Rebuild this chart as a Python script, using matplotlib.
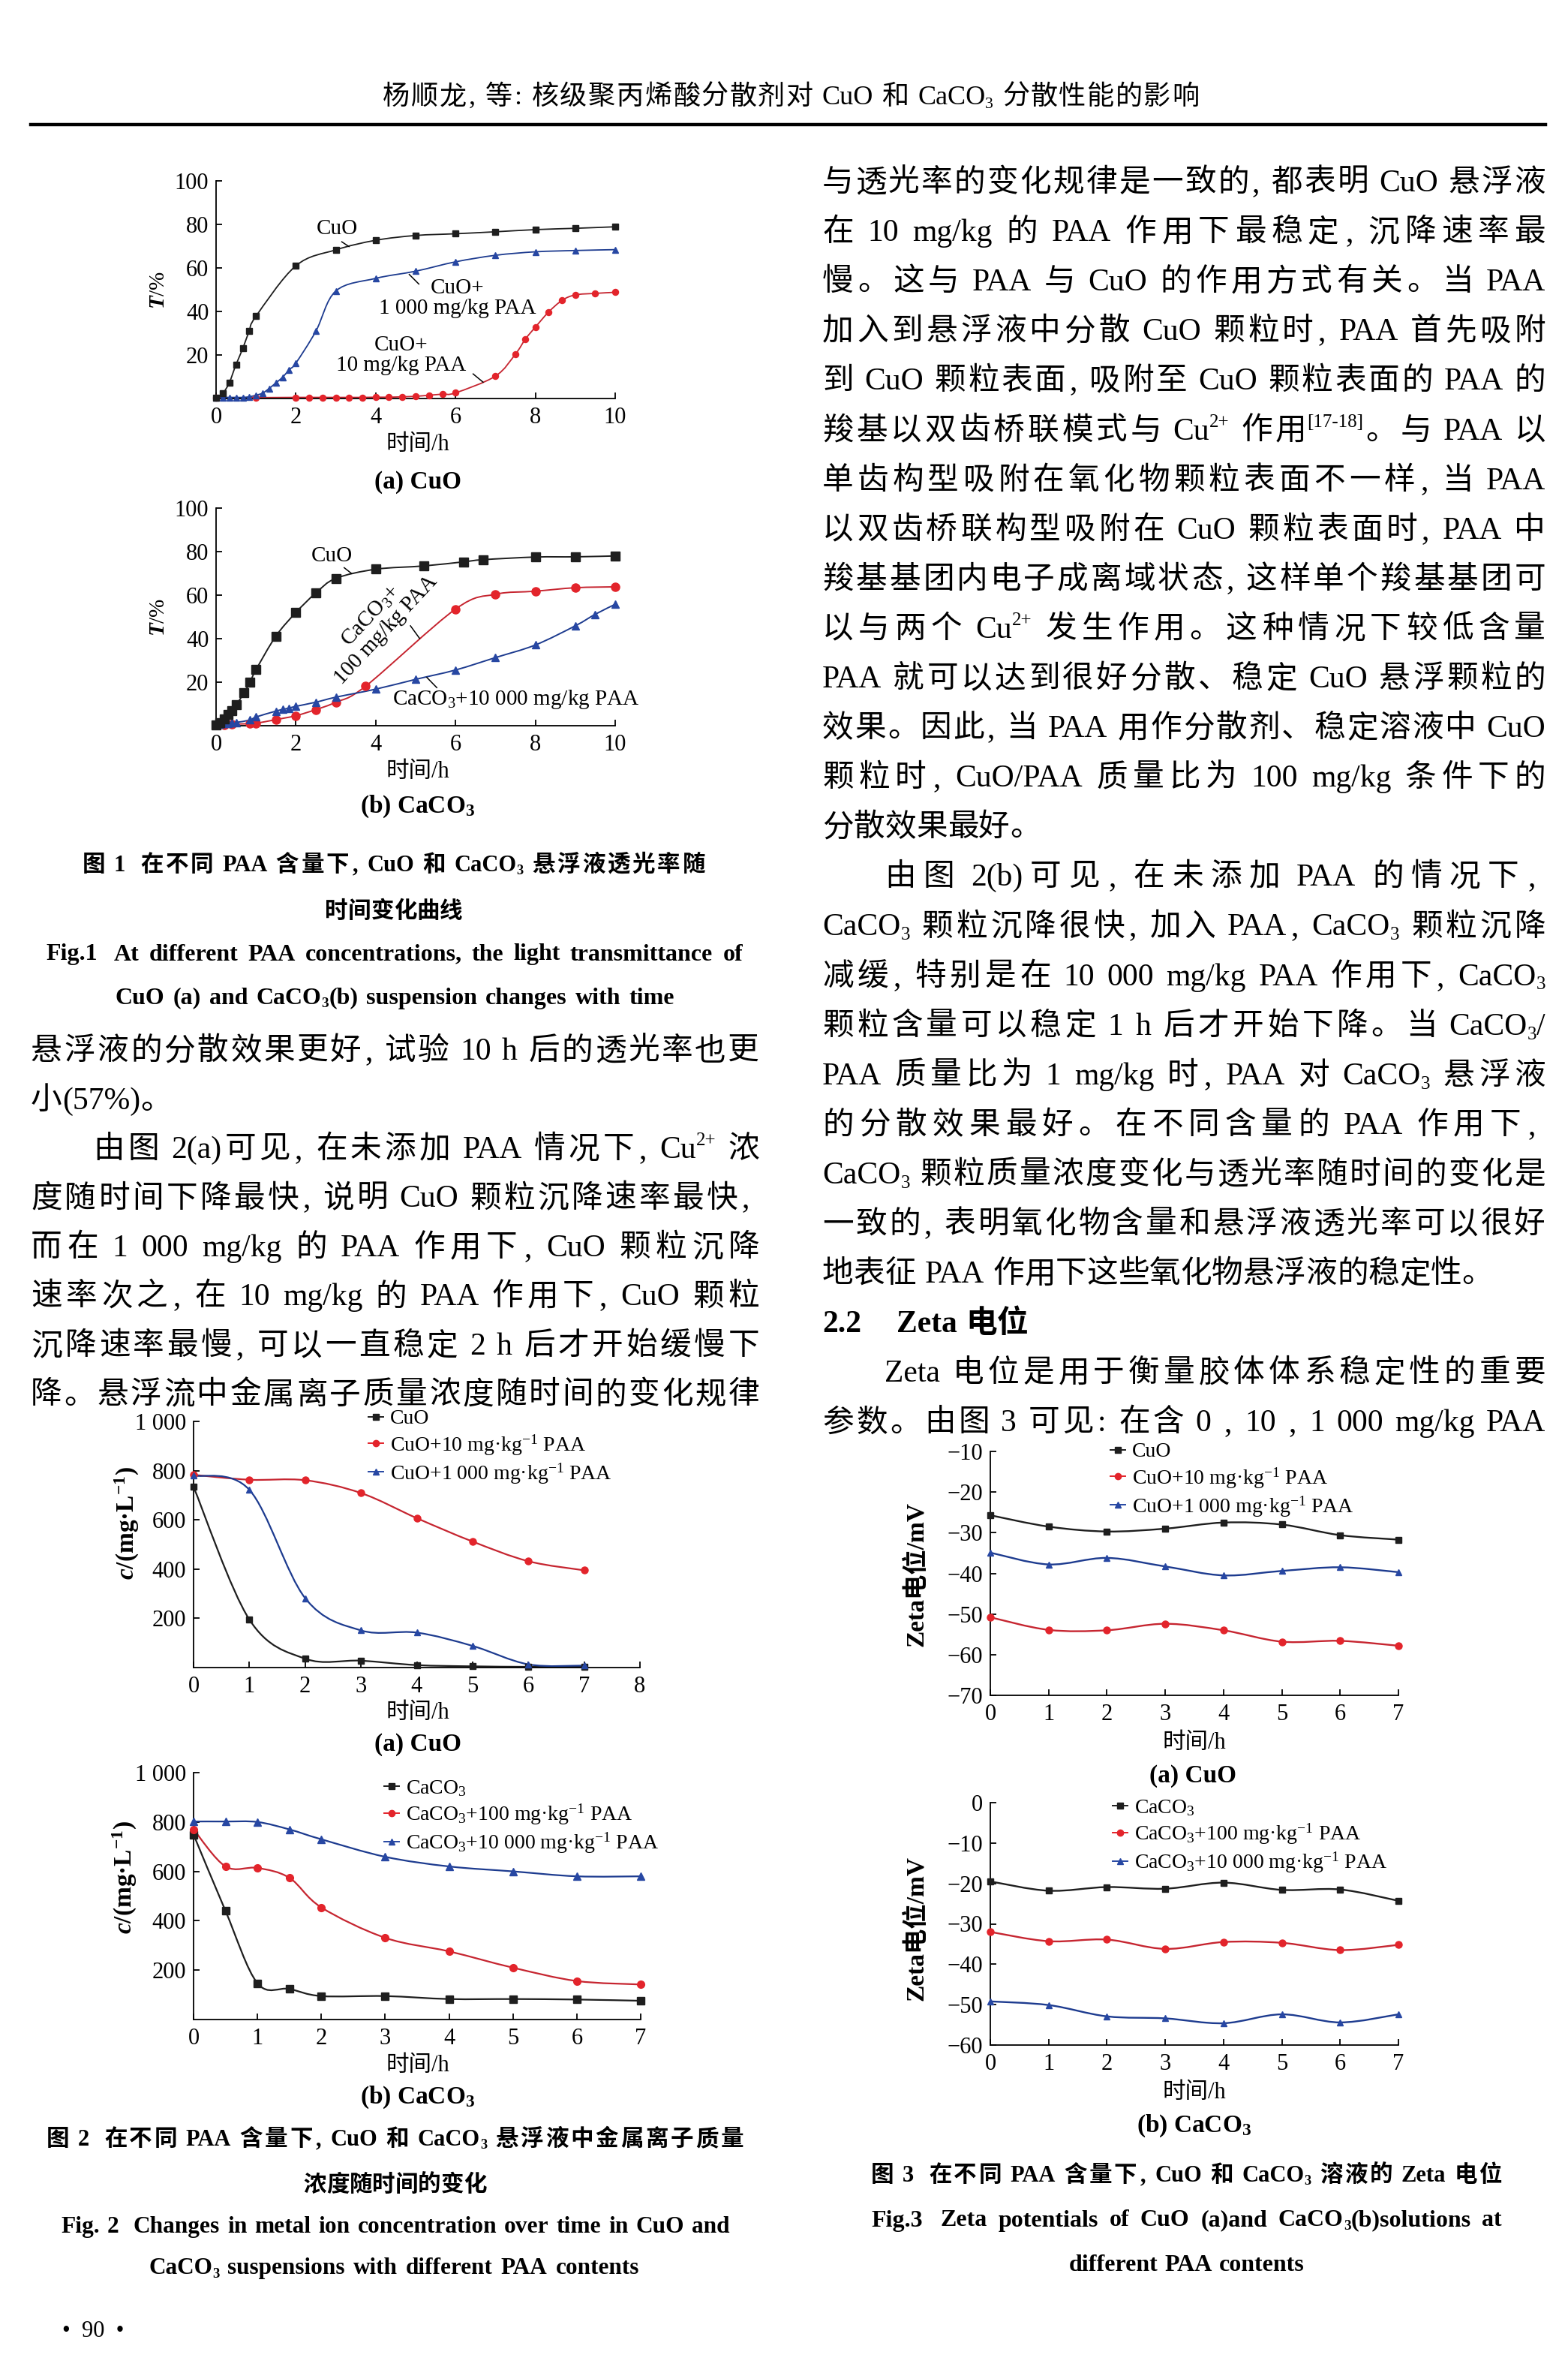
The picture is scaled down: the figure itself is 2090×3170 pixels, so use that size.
import re
import numpy as np
import matplotlib
matplotlib.use('Agg')
import matplotlib.pyplot as plt
from matplotlib.path import Path
from matplotlib.patches import PathPatch
from matplotlib.lines import Line2D

W, H = 2090, 3170
PX = 100 / 72
CJK = 'Noto Sans CJK SC'
SERIF = 'Liberation Serif'

plt.rcParams['font.family'] = [SERIF, CJK]
plt.rcParams['mathtext.fontset'] = 'custom'
plt.rcParams['mathtext.rm'] = SERIF
plt.rcParams['mathtext.it'] = SERIF + ':italic:bold'
plt.rcParams['mathtext.bf'] = SERIF + ':bold'

# ---------------- data ----------------
# Fig.1(a) transmittance T/% vs time/h, CuO
t1a_cuo = [0, 0.17, 0.33, 0.5, 0.67, 0.83, 1.0, 2, 3, 4, 5, 6, 7, 8, 9, 10]
T1a_cuo = [0.3, 2.4, 7.2, 15.6, 23, 31, 37.8, 61, 68.3, 72.7, 74.9, 75.7, 76.6, 77.6, 78.2, 78.9]
t1a_1000 = [0, 0.17, 0.33, 0.5, 0.67, 0.83, 1.0, 1.17, 1.33, 1.5, 1.67, 1.83, 2.0, 2.5, 3, 4, 5, 6, 7, 8, 9, 10]
T1a_1000 = [0.5, 0.5, 0.5, 0.5, 0.5, 0.8, 1.5, 2.5, 4.6, 7.2, 9.8, 13.2, 16.3, 30.9, 49.4, 55.2, 58.5, 62.8,
            65.8, 67.4, 68.0, 68.4]
t1a_10 = [0, 1, 2, 2.33, 2.67, 3, 3.33, 3.67, 4, 4.33, 4.67, 5, 5.33, 5.67, 6, 7, 7.5, 7.75, 8, 8.33, 8.67,
          9, 9.5, 10]
T1a_10 = [0.3, 0.4, 0.5, 0.5, 0.5, 0.5, 0.5, 0.5, 0.6, 0.6, 0.8, 1.0, 1.5, 2.0, 2.6, 10.3, 20.4, 27.3, 32.8,
          39.7, 45.1, 47.6, 48.3, 48.8]

# Fig.1(b) CaCO3
t1b_cuo = [0, 0.1, 0.2, 0.3, 0.4, 0.5, 0.7, 0.85, 1.0, 1.5, 2, 2.5, 3, 4, 5.2, 6.2, 6.7, 8, 9, 10]
T1b_cuo = [0.5, 1.5, 3, 5, 7, 9.5, 15, 20, 25.7, 41.2, 52, 61, 67.7, 71.9, 73.4, 75.3, 76.3, 77.5, 77.6, 78]
t1b_100 = [0, 0.2, 0.4, 0.85, 1.0, 1.5, 2, 2.5, 3, 3.75, 6, 7, 8, 9, 10]
T1b_100 = [0.3, 0.5, 0.7, 0.9, 1.1, 2.8, 4.6, 7.4, 10.8, 18.2, 53.6, 60.4, 61.8, 63.4, 63.8]
t1b_10000 = [0, 0.1, 0.2, 0.3, 0.4, 0.5, 0.85, 1.0, 1.5, 1.67, 1.83, 2, 2.5, 3, 4, 5, 6, 7, 8, 9, 9.5, 10]
T1b_10000 = [0.5, 0.7, 0.9, 1.1, 1.3, 1.5, 2.6, 4.0, 6.7, 7.5, 8.1, 8.9, 10.8, 13.1, 16.8, 21.3, 25.6, 31.3,
             37.1, 45.9, 51.2, 55.8]

# Fig.2 metal ion concentration c/(mg/L)
t2a = [0, 1, 2, 3, 4, 5, 6, 7]
c2a_cuo = [734, 195, 36, 28, 10, 5, 3, 3]
c2a_10 = [783, 763, 761, 709, 607, 512, 432, 395]
c2a_1000 = [780, 722, 282, 151, 142, 88, 13, 8]

t2b = [0, 0.5, 1, 1.5, 2, 3, 4, 5, 6, 7]
c2b_caco3 = [749, 440, 147, 124, 95, 95, 83, 83, 81, 76]
c2b_100 = [770, 620, 614, 574, 454, 331, 276, 210, 156, 142]
c2b_10000 = [802, 802, 800, 770, 730, 659, 620, 600, 580, 580]

# Fig.3 zeta potential / mV
t3 = [0, 1, 2, 3, 4, 5, 6, 7]
z3a_cuo = [-25.7, -28.5, -29.7, -29.0, -27.5, -28.0, -30.6, -31.7]
z3a_10 = [-50.8, -53.9, -54.0, -52.4, -54.0, -56.8, -56.6, -57.8]
z3a_1000 = [-34.9, -37.8, -36.2, -38.3, -40.5, -39.4, -38.5, -39.7]
z3b_caco3 = [-19.5, -21.8, -20.9, -21.3, -19.8, -21.6, -21.5, -24.3]
z3b_100 = [-32.0, -34.3, -33.9, -36.2, -34.5, -34.7, -36.5, -35.2]
z3b_10000 = [-49.2, -50.1, -52.9, -53.4, -54.6, -52.4, -54.4, -52.4]

leg2a = ['CuO', 'CuO+10 mg·kg$^{-1}$ PAA', 'CuO+1 000 mg·kg$^{-1}$ PAA']
leg2b = ['CaCO$_3$', 'CaCO$_3$+100 mg·kg$^{-1}$ PAA', 'CaCO$_3$+10 000 mg·kg$^{-1}$ PAA']
ticks_c = [200, 400, 600, 800, 1000]
ticklabels_c = ['200', '400', '600', '800', '1 000']

# ---------------- page text ----------------
header = '杨顺龙，等：核级聚丙烯酸分散剂对 CuO 和 CaCO_{3} 分散性能的影响'

right_lines = [
    ('与透光率的变化规律是一致的，都表明 CuO 悬浮液', 'j', 0),
    ('在 10 mg/kg 的 PAA 作用下最稳定，沉降速率最', 'j', 0),
    ('慢。这与 PAA 与 CuO 的作用方式有关。当 PAA', 'j', 0),
    ('加入到悬浮液中分散 CuO 颗粒时，PAA 首先吸附', 'j', 0),
    ('到 CuO 颗粒表面，吸附至 CuO 颗粒表面的 PAA 的', 'j', 0),
    ('羧基以双齿桥联模式与 Cu^{2+} 作用^{[17-18]}。与 PAA 以', 'j', 0),
    ('单齿构型吸附在氧化物颗粒表面不一样，当 PAA', 'j', 0),
    ('以双齿桥联构型吸附在 CuO 颗粒表面时，PAA 中', 'j', 0),
    ('羧基基团内电子成离域状态，这样单个羧基基团可', 'j', 0),
    ('以与两个 Cu^{2+} 发生作用。这种情况下较低含量', 'j', 0),
    ('PAA 就可以达到很好分散、稳定 CuO 悬浮颗粒的', 'j', 0),
    ('效果。因此，当 PAA 用作分散剂、稳定溶液中 CuO', 'j', 0),
    ('颗粒时，CuO/PAA 质量比为 100 mg/kg 条件下的', 'j', 0),
    ('分散效果最好。', 'l', 0),
    ('由图 2(b)可见，在未添加 PAA 的情况下，', 'j', 1),
    ('CaCO_{3} 颗粒沉降很快，加入 PAA，CaCO_{3} 颗粒沉降', 'j', 0),
    ('减缓，特别是在 10 000 mg/kg PAA 作用下，CaCO_{3}', 'j', 0),
    ('颗粒含量可以稳定 1 h 后才开始下降。当 CaCO_{3}/', 'j', 0),
    ('PAA 质量比为 1 mg/kg 时，PAA 对 CaCO_{3} 悬浮液', 'j', 0),
    ('的分散效果最好。在不同含量的 PAA 作用下，', 'j', 0),
    ('CaCO_{3} 颗粒质量浓度变化与透光率随时间的变化是', 'j', 0),
    ('一致的，表明氧化物含量和悬浮液透光率可以很好', 'j', 0),
    ('地表征 PAA 作用下这些氧化物悬浮液的稳定性。', 'l', 0),
    ('2.2    Zeta 电位', 'h', 0),
    ('Zeta 电位是用于衡量胶体体系稳定性的重要', 'j', 1),
    ('参数。由图 3 可见：在含 0 ，10 ，1 000 mg/kg PAA', 'j', 0),
]

left_lines = [
    ('悬浮液的分散效果更好，试验 10 h 后的透光率也更', 'j', 0),
    ('小(57%)。', 'l', 0),
    ('由图 2(a)可见，在未添加 PAA 情况下，Cu^{2+} 浓', 'j', 1),
    ('度随时间下降最快，说明 CuO 颗粒沉降速率最快，', 'j', 0),
    ('而在 1 000 mg/kg 的 PAA 作用下，CuO 颗粒沉降', 'j', 0),
    ('速率次之，在 10 mg/kg 的 PAA 作用下，CuO 颗粒', 'j', 0),
    ('沉降速率最慢，可以一直稳定 2 h 后才开始缓慢下', 'j', 0),
    ('降。悬浮流中金属离子质量浓度随时间的变化规律', 'j', 0),
]

# (text, x0, x1, y, align, size)
captions = [
    ('图 1  在不同 PAA 含量下，CuO 和 CaCO_{3} 悬浮液透光率随', 110, 940, 1150, 'j', 22),
    ('时间变化曲线', 110, 940, 1212, 'c', 22),
    ('Fig.1  At different PAA concentrations, the light transmittance of', 61, 990, 1268, 'j', 23),
    ('CuO (a) and CaCO_{3}(b) suspension changes with time', 154, 899, 1326, 'j', 23),
    ('图 2  在不同 PAA 含量下，CuO 和 CaCO_{3} 悬浮液中金属离子质量', 62, 991, 2848, 'j', 22),
    ('浓度随时间的变化', 62, 991, 2909, 'c', 22),
    ('Fig. 2  Changes in metal ion concentration over time in CuO and', 81, 973, 2964, 'j', 23),
    ('CaCO_{3} suspensions with different PAA contents', 198, 852, 3019, 'j', 23),
    ('图 3  在不同 PAA 含量下，CuO 和 CaCO_{3} 溶液的 Zeta 电位', 1161, 2002, 2896, 'j', 22),
    ('Fig.3  Zeta potentials of CuO (a)and CaCO_{3}(b)solutions at', 1161, 2002, 2955, 'j', 23),
    ('different PAA contents', 1161, 2002, 3015, 'c', 23),
]

fig = plt.figure(figsize=(W / 100, H / 100), dpi=100)
fig.patch.set_facecolor('white')
renderer = fig.canvas.get_renderer()


def fx(x):
    return x / W


def fy(y):
    return 1 - y / H


# full-width punctuation drawn with the serif face (narrow, like the print)
PUNCT_LAT = {'，': ',', '：': ':', '；': ';'}
WIDE_PUNCT = '。、'


def parse(s):
    boxes = []
    st = {'word': '', 'sp': 0}

    def push(text, kind, cjk, punct=False):
        if not boxes:
            gap = 'none'
        elif kind != 'n':
            gap = 'attach'
        elif st['sp']:
            gap = 'space'
        elif cjk or boxes[-1]['cjk']:
            gap = 'cjk'
        else:
            gap = 'attach'
        boxes.append(dict(text=text, kind=kind, cjk=cjk, punct=punct, gap=gap, nsp=st['sp']))
        st['sp'] = 0

    def flush():
        if st['word']:
            w = st['word']
            st['word'] = ''
            push(w, 'n', False)

    for part in re.split(r'([_^]\{[^}]*\})', s):
        if not part:
            continue
        if part[0] in '_^' and part[1:2] == '{':
            flush()
            push(part[2:-1], 'sub' if part[0] == '_' else 'sup', False)
            continue
        for ch in part:
            if ch == ' ':
                flush()
                st['sp'] += 1
            elif ch in PUNCT_LAT:
                flush()
                push(PUNCT_LAT[ch], 'n', True, punct=True)
            elif ord(ch) < 0x2000 or ch == '−':
                st['word'] += ch
            else:
                flush()
                push(ch, 'n', True)
    flush()
    return boxes


def draw_line(s, x0, x1, y, size, weight='normal', align='j'):
    boxes = parse(s)
    em = size * PX
    for b in boxes:
        fs = size * (0.6 if b['kind'] != 'n' else 1.0)
        b['fs'] = fs
        fam = CJK if (b['cjk'] and not b['punct']) else SERIF
        b['t'] = fig.text(0, 0, b['text'], fontsize=fs, family=fam,
                          weight=weight, va='baseline', ha='left', color='black')
        ink = b['t'].get_window_extent(renderer).width
        if b['punct']:
            b['w'], b['off'] = ink + 0.36 * em, 0.04 * em
        elif b['cjk'] and b['text'] in WIDE_PUNCT:
            b['w'] = max(em, ink)
            b['off'] = max(0.0, min(0.06 * em, b['w'] - ink))
        elif b['cjk']:
            b['w'] = max(em, ink)
            b['off'] = (b['w'] - ink) / 2
        else:
            b['w'], b['off'] = ink, 0.0
    sw = 0.28 * em
    target = x1 - x0
    nat = sum(b['w'] for b in boxes) + sum(sw * b['nsp'] for b in boxes if b['gap'] == 'space')
    if align == 'j' and nat > target:
        k = target / nat * 0.985
        for b in boxes:
            b['t'].set_fontsize(b['fs'] * k)
            b['w'] *= k
            b['off'] *= k
        sw *= k
        em *= k
        nat *= k
    ngaps = sum(1 for b in boxes if b['gap'] in ('space', 'cjk'))
    extra = (target - nat) / ngaps if (align == 'j' and ngaps) else 0.0
    x = (x0 + x1) / 2 - nat / 2 if align == 'c' else x0
    base = y + 0.36 * em
    for b in boxes:
        if b['gap'] == 'space':
            x += sw * b['nsp'] + extra
        elif b['gap'] == 'cjk':
            x += extra
        yb = base
        if b['kind'] == 'sub':
            yb = base + 0.14 * em
        elif b['kind'] == 'sup':
            yb = base - 0.40 * em
        b['t'].set_position((fx(x + b['off']), fy(yb)))
        x += b['w']


def smooth_path(x, y):
    pts = np.column_stack([x, y]).astype(float)
    n = len(pts)
    verts = [pts[0]]
    codes = [Path.MOVETO]
    for i in range(n - 1):
        p0 = pts[i - 1] if i > 0 else pts[i]
        p1, p2 = pts[i], pts[i + 1]
        p3 = pts[i + 2] if i + 2 < n else pts[i + 1]
        verts += [p1 + (p2 - p0) / 6, p2 - (p3 - p1) / 6, p2]
        codes += [Path.CURVE4] * 3
    return Path(verts, codes)


def add_ax(x0, x1, ytop, ybot):
    ax = fig.add_axes([x0 / W, 1 - ybot / H, (x1 - x0) / W, (ybot - ytop) / H])
    ax.patch.set_alpha(0)
    for s in ('top', 'right'):
        ax.spines[s].set_visible(False)
    for s in ('left', 'bottom'):
        ax.spines[s].set_linewidth(1.3)
    ax.tick_params(direction='in', length=5.5, width=1.3, labelsize=22, pad=7)
    ax.tick_params(axis='x', pad=8)
    return ax


def series(ax, x, y, lc, mc, marker, ms, lw):
    ax.add_patch(PathPatch(smooth_path(x, y), facecolor='none', edgecolor=lc, lw=lw,
                           clip_on=False, zorder=2))
    ax.plot(x, y, linestyle='none', marker=marker, ms=ms, color=mc, mec=mc,
            clip_on=False, zorder=3)


def leader(ax, p, q):
    ax.plot([p[0], q[0]], [p[1], q[1]], color='black', lw=1.1, clip_on=False)


def legend(ax, labels, colors, markers, ms, xm, y0):
    fs = 20
    hl = 0.75
    handles = [Line2D([], [], color=c, marker=m, ms=ms, lw=1.4) for c, m in zip(colors, markers)]
    ax.legend(handles, labels, loc='upper left',
              bbox_to_anchor=(fx(xm - hl * fs * PX / 2), fy(y0 - 17)),
              bbox_transform=fig.transFigure, frameon=False, fontsize=fs, handlelength=hl,
              handletextpad=0.3, labelspacing=0.2, borderpad=0, borderaxespad=0)


BLACK = '#1e1e1e'
RED_L, RED_M = '#c62530', '#e3242b'
BLUE_L, BLUE_M = '#1d3b8f', '#2747a3'

# ---------------- header ----------------
draw_line(header, 510, 1598, 126, 26)
fig.add_artist(Line2D([fx(41), fx(2060)], [fy(166), fy(166)], color='black', lw=3.2,
                      transform=fig.transFigure))

# ---------------- Fig.1(a) ----------------
ax = add_ax(288, 820, 241, 531)
series(ax, t1a_10, T1a_10, RED_L, RED_M, 'o', 5.8, 1.3)
series(ax, t1a_1000, T1a_1000, BLUE_L, BLUE_M, '^', 5.5, 1.3)
series(ax, t1a_cuo, T1a_cuo, BLACK, BLACK, 's', 5.8, 1.3)
ax.set_xlim(0, 10)
ax.set_ylim(0, 100)
ax.set_xticks(range(0, 11, 2))
ax.set_yticks(range(20, 101, 20))
ax.text(3.04, 78, 'CuO', fontsize=21, ha='center', va='center')
leader(ax, (3.15, 72), (3.33, 69.8))
ax.text(6.05, 46, 'CuO+\n1 000 mg/kg PAA', fontsize=21, ha='center', va='center',
        multialignment='center', linespacing=1.05)
leader(ax, (5.08, 52.6), (4.84, 57))
ax.text(4.63, 19.8, 'CuO+\n10 mg/kg PAA', fontsize=21, ha='center', va='center',
        multialignment='center', linespacing=1.05)
leader(ax, (6.44, 11.3), (6.69, 7.5))
fig.text(fx(212), fy(386), '$T$/%', rotation=90, ha='center', va='center', fontsize=21)
fig.text(fx(557), fy(593), '时间/h', ha='center', va='center', fontsize=22)
fig.text(fx(557), fy(643), '(a) CuO', ha='center', va='center', fontsize=24, weight='bold')

# ---------------- Fig.1(b) ----------------
ax = add_ax(288, 820, 677, 967)
series(ax, t1b_100, T1b_100, RED_L, RED_M, 'o', 8, 1.4)
series(ax, t1b_10000, T1b_10000, BLUE_L, BLUE_M, '^', 7.5, 1.4)
series(ax, t1b_cuo, T1b_cuo, BLACK, BLACK, 's', 8, 1.4)
ax.set_xlim(0, 10)
ax.set_ylim(0, 100)
ax.set_xticks(range(0, 11, 2))
ax.set_yticks(range(20, 101, 20))
ax.text(2.9, 78, 'CuO', fontsize=21, ha='center', va='center')
leader(ax, (3.21, 72.6), (3.39, 70))
ax.text(4.06, 47.2, 'CaCO$_3$+\n100 mg/kg PAA', fontsize=21, ha='center', va='center',
        multialignment='center', linespacing=1.05, rotation=47, rotation_mode='anchor')
leader(ax, (4.87, 45.9), (5.1, 40.1))
ax.text(4.42, 12.1, 'CaCO$_3$+10 000 mg/kg PAA', fontsize=21, ha='left', va='center')
leader(ax, (5.28, 22.2), (5.53, 17.5))
fig.text(fx(212), fy(822), '$T$/%', rotation=90, ha='center', va='center', fontsize=21)
fig.text(fx(557), fy(1028), '时间/h', ha='center', va='center', fontsize=22)
fig.text(fx(557), fy(1075), r'(b) CaCO$_\mathbf{3}$', ha='center', va='center', fontsize=24,
         weight='bold')

# ---------------- Fig.2(a) ----------------
ax = add_ax(258, 853, 1894, 2222)
series(ax, t2a, c2a_cuo, BLACK, BLACK, 's', 6, 1.6)
series(ax, t2a, c2a_10, RED_L, RED_M, 'o', 6.5, 1.6)
series(ax, t2a, c2a_1000, BLUE_L, BLUE_M, '^', 6, 1.6)
ax.set_xlim(0, 8)
ax.set_ylim(0, 1000)
ax.set_xticks(range(0, 9))
ax.set_yticks(ticks_c)
ax.set_yticklabels(ticklabels_c)
legend(ax, leg2a, [BLACK, RED_M, BLUE_M], ['s', 'o', '^'], 6, 501, 1895)
fig.text(fx(169), fy(2030), r'$c$/(mg·L$^{\mathbf{-1}}$)', rotation=90, ha='center', va='center',
         fontsize=24, weight='bold')
fig.text(fx(557), fy(2282), '时间/h', ha='center', va='center', fontsize=22)
fig.text(fx(557), fy(2325), '(a) CuO', ha='center', va='center', fontsize=24, weight='bold')

# ---------------- Fig.2(b) ----------------
ax = add_ax(258, 854, 2362, 2691)
series(ax, t2b, c2b_caco3, BLACK, BLACK, 's', 6.5, 1.6)
series(ax, t2b, c2b_100, RED_L, RED_M, 'o', 7, 1.6)
series(ax, t2b, c2b_10000, BLUE_L, BLUE_M, '^', 6.5, 1.6)
ax.set_xlim(0, 7)
ax.set_ylim(0, 1000)
ax.set_xticks(range(0, 8))
ax.set_yticks(ticks_c)
ax.set_yticklabels(ticklabels_c)
legend(ax, leg2b, [BLACK, RED_M, BLUE_M], ['s', 'o', '^'], 6, 522, 2387)
fig.text(fx(166), fy(2502), r'$c$/(mg·L$^{\mathbf{-1}}$)', rotation=90, ha='center', va='center',
         fontsize=24, weight='bold')
fig.text(fx(557), fy(2753), '时间/h', ha='center', va='center', fontsize=22)
fig.text(fx(557), fy(2795), r'(b) CaCO$_\mathbf{3}$', ha='center', va='center', fontsize=24,
         weight='bold')

# ---------------- Fig.3(a) ----------------
ax = add_ax(1320, 1864, 1934, 2259)
series(ax, t3, z3a_cuo, BLACK, BLACK, 's', 6, 1.7)
series(ax, t3, z3a_10, RED_L, RED_M, 'o', 6.5, 1.7)
series(ax, t3, z3a_1000, BLUE_L, BLUE_M, '^', 6, 1.7)
ax.set_xlim(0, 7)
ax.set_ylim(-70, -10)
ax.set_xticks(range(0, 8))
ax.set_yticks(range(-70, -9, 10))
legend(ax, leg2a, [BLACK, RED_M, BLUE_M], ['s', 'o', '^'], 6, 1490, 1939)
fig.text(fx(1221), fy(2097), 'Zeta电位/mV', rotation=90, ha='center', va='center', fontsize=24,
         weight='bold')
fig.text(fx(1592), fy(2322), '时间/h', ha='center', va='center', fontsize=22)
fig.text(fx(1590), fy(2367), '(a) CuO', ha='center', va='center', fontsize=24, weight='bold')

# ---------------- Fig.3(b) ----------------
ax = add_ax(1320, 1864, 2402, 2725)
series(ax, t3, z3b_caco3, BLACK, BLACK, 's', 6, 1.7)
series(ax, t3, z3b_100, RED_L, RED_M, 'o', 6.5, 1.7)
series(ax, t3, z3b_10000, BLUE_L, BLUE_M, '^', 6, 1.7)
ax.set_xlim(0, 7)
ax.set_ylim(-60, 0)
ax.set_xticks(range(0, 8))
ax.set_yticks(range(-60, 1, 10))
legend(ax, leg2b, [BLACK, RED_M, BLUE_M], ['s', 'o', '^'], 6, 1493, 2413)
fig.text(fx(1221), fy(2570), 'Zeta电位/mV', rotation=90, ha='center', va='center', fontsize=24,
         weight='bold')
fig.text(fx(1592), fy(2788), '时间/h', ha='center', va='center', fontsize=22)
fig.text(fx(1592), fy(2833), r'(b) CaCO$_\mathbf{3}$', ha='center', va='center', fontsize=24,
         weight='bold')

# ---------------- body text ----------------
BODY = 30
INDENT = 2 * BODY * PX
for i, (s, al, ind) in enumerate(right_lines):
    y = 240 + 66.1 * i
    if al == 'h':
        draw_line(s, 1096, 2060, y, BODY, weight='bold', align='l')
    else:
        draw_line(s, 1096 + ind * INDENT, 2060, y, BODY, weight='light', align=al)

for k, (s, al, ind) in enumerate(left_lines):
    y = 1397 + 65.5 * k
    draw_line(s, 41 + ind * INDENT, 1012, y, BODY, weight='light', align=al)

for s, x0, x1, y, al, fs in captions:
    draw_line(s, x0, x1, y, fs, weight='bold', align=al)

fig.text(fx(124), fy(3107), '•  90  •', ha='center', va='center', fontsize=22)

fig.savefig('out.png', dpi=100, facecolor='white')
